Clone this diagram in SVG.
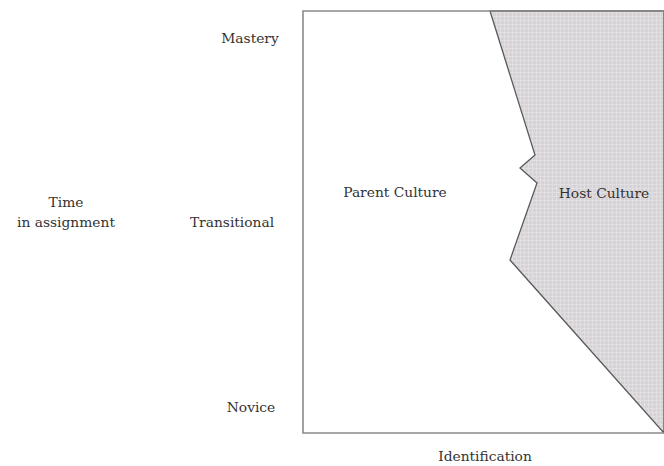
<svg xmlns="http://www.w3.org/2000/svg" width="664" height="466" viewBox="0 0 664 466">
<style>
text{font-family:"DejaVu Serif","Liberation Serif",serif;font-size:13.8px;fill:#333333;text-anchor:middle}
.frame{fill:none;stroke:#8a8a8a;stroke-width:1.6}
.host{fill:url(#grid);stroke:#5a5a5a;stroke-width:1.3;stroke-linejoin:miter}
</style>
<defs>
<pattern id="grid" width="4" height="4" patternUnits="userSpaceOnUse">
<rect width="4" height="4" fill="#d6d2d6"/>
<rect width="4" height="1" fill="#e2dfe2"/>
<rect width="1" height="4" fill="#e2dfe2"/>
</pattern>
</defs>
<rect width="664" height="466" fill="#ffffff"/>
<g id="host-culture">
<polygon class="host" points="490,11 535,155 520,168 537,183 510,260 664,433 664,11"/>
<text x="604" y="198">Host Culture</text>
</g>
<g id="frame">
<polyline class="frame" points="664,11 303,11 303,433 664,433"/>
</g>
<g id="parent-culture">
<text x="395" y="197">Parent Culture</text>
</g>
<g id="axis-labels">
<text x="250" y="43">Mastery</text>
<text x="232" y="227">Transitional</text>
<text x="251" y="412">Novice</text>
<text x="66" y="207">Time</text>
<text x="66" y="227">in assignment</text>
<text x="485" y="461">Identification</text>
</g>
</svg>
